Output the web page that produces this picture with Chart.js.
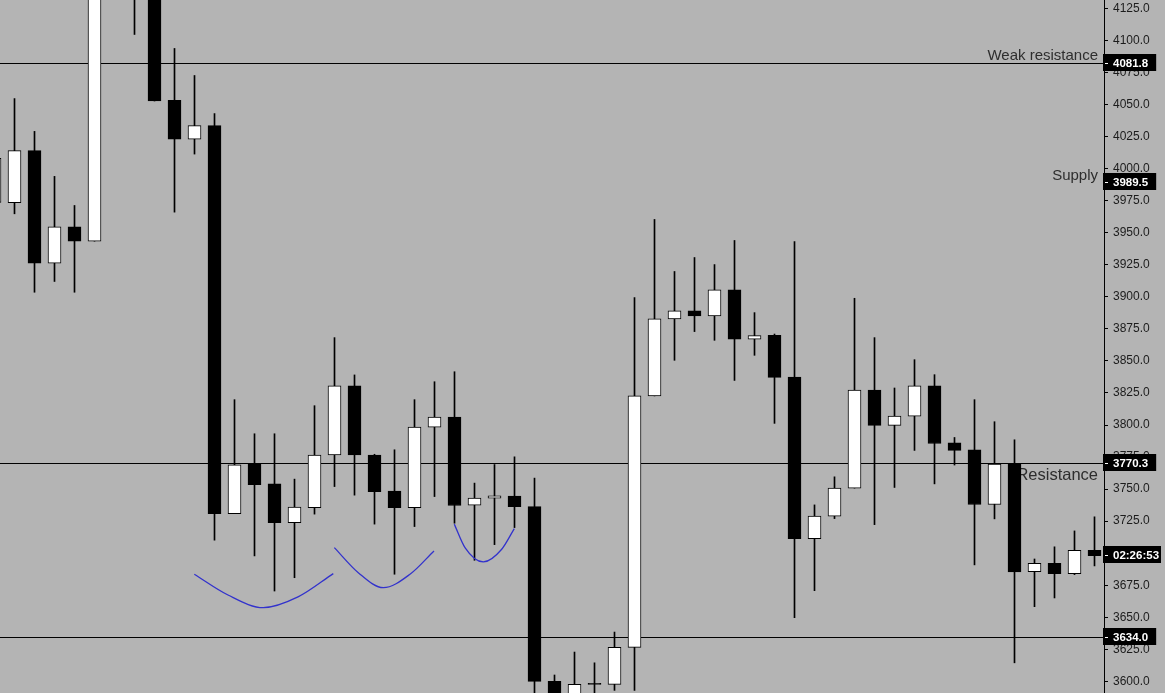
<!DOCTYPE html>
<html><head><meta charset="utf-8">
<script src="https://cdn.jsdelivr.net/npm/chart.js@4/dist/chart.umd.min.js"></script>
<style>html,body{margin:0;padding:0;background:#b4b4b4;overflow:hidden}canvas{display:block}</style>
</head><body>
<canvas id="c" width="1165" height="693"></canvas>
<script>
// ---- data ----
const candleX = [-1,0,1,2,3,4,5,6,7,8,9,10,11,12,13,14,15,16,17,18,19,20,21,22,23,24,25,26,27,28,29,30,31,32,33,34,35,36,37,38,39,40,41,42,43,44,45,46,47,48,49,50,51,52,53,54];
const opens  = [3973.7,3973.4,4014.1,3926.3,3954.7,3943.4,4150,4175,4145,4053.4,4023.1,4033.6,3730.9,3769.5,3754.1,3723.9,3735.6,3776.6,3830.5,3776.6,3748.4,3735.6,3798.4,3806.3,3737.5,3743.0,3744.5,3736.4,3600.0,3585.0,3597.7,3597.7,3626.6,3822.7,3882.8,3889.1,3885.2,3905.5,3866.9,3870.0,3837.5,3711.4,3728.9,3750.8,3827.3,3799.7,3807.0,3830.5,3786.2,3780.7,3738.0,3769.5,3685.6,3692.2,3684.1,3702.3];
const highs  = [4025,4054.7,4029.1,3994.0,3971.3,4165,4190,4185,4150,4093.8,4072.7,4043.0,3819.8,3793.2,3793.2,3757.8,3815.1,3868.2,3839.1,3777.2,3780.7,3819.8,3833.8,3841.6,3754.7,3769.2,3775.2,3758.6,3605.0,3622.9,3614.5,3638.5,3899.5,3960.4,3919.8,3930.7,3925.2,3944.0,3887.7,3871.0,3943.2,3737.7,3759.6,3898.9,3868.2,3828.9,3851.0,3839.3,3790.3,3819.8,3802.6,3788.5,3695.5,3705.0,3717.4,3728.4];
const lows   = [3960,3964.8,3903.6,3912.0,3903.6,3943.4,4140,4104.7,4052.8,3966.1,4011.4,3710.2,3730.9,3697.9,3670.5,3680.9,3730.5,3752.0,3745.3,3722.7,3683.6,3720.8,3744.2,3723.4,3694.5,3706.7,3720.0,3580.0,3575.0,3575.0,3580.0,3593.0,3593.0,3822.7,3850.5,3872.9,3866.1,3834.8,3854.4,3801.3,3649.7,3670.8,3727.0,3750.8,3722.3,3751.3,3780.2,3754.1,3768.8,3690.9,3726.8,3614.5,3658.3,3665.1,3683.3,3690.1];
const closes = [4008,4014.1,3926.3,3954.7,3943.4,4150,4175,4145,4052.8,4023.1,4033.6,3730.9,3769.0,3753.4,3723.9,3735.9,3776.6,3830.5,3776.6,3748.1,3735.6,3798.4,3806.3,3737.2,3743.0,3744.8,3736.4,3600.0,3585.0,3597.7,3597.7,3626.6,3822.7,3882.8,3889.1,3885.2,3905.5,3866.9,3869.8,3837.2,3711.4,3728.9,3750.8,3827.3,3799.7,3807.0,3830.5,3785.6,3780.2,3738.0,3769.5,3685.4,3692.2,3684.1,3702.3,3698.1];

const tickValues = [3600,3625,3650,3675,3700,3725,3750,3775,3800,3825,3850,3875,3900,3925,3950,3975,4000,4025,4050,4075,4100,4125];

const levelValues = [4081.8, 3989.5, 3770.3, 3634.0];
const levelNames  = ['Weak resistance', 'Supply', 'Resistance', ''];
const levelHasLine = [true, false, true, true];
const timerText = '02:26:53';

const arc1X = [8.99, 10.675, 12.44, 14.175, 15.94];
const arc1Y = [3683.6, 3667.4, 3657.5, 3665.9, 3684.1];
const arc2X = [15.99, 17.19, 18.44, 19.775, 20.975];
const arc2Y = [3704.4, 3684.8, 3673.1, 3683.6, 3701.8];
const arc3X = [21.99, 22.525, 23.44, 24.36, 24.99];
const arc3Y = [3722.7, 3704.4, 3693.2, 3703.1, 3719.2];

// ---- styles ----
const Y_MIN = 3590.95, Y_MAX = 4131.6;
const X_MIN = -0.725, X_MAX = 54.475;
const AXIS_W = 61;
const levelLabelStyle = [
  {size: 15, dy: -3.5},
  {size: 15, dy: -2},
  {size: 16.5, dy: 16.5},
  {size: 15, dy: 0}
];

const levelsPlugin = {
  id: 'levels',
  beforeDatasetsDraw(chart) {
    const {ctx, chartArea, scales: {y}} = chart;
    ctx.save();
    levelValues.forEach((v, k) => {
      const py = y.getPixelForValue(v);
      if (levelHasLine[k]) {
        const ly = Math.floor(py) + 0.5;
        ctx.strokeStyle = '#000';
        ctx.lineWidth = 1;
        ctx.beginPath();
        ctx.moveTo(chartArea.left, ly);
        ctx.lineTo(chartArea.right, ly);
        ctx.stroke();
      }
      if (levelNames[k]) {
        const st = levelLabelStyle[k];
        ctx.font = st.size + 'px "Liberation Sans", Arial, sans-serif';
        ctx.fillStyle = '#2e2e2e';
        ctx.textAlign = 'right';
        ctx.textBaseline = 'alphabetic';
        ctx.fillText(levelNames[k], chartArea.right - 6, Math.floor(py) + st.dy);
      }
    });
    ctx.restore();
  },
  afterDraw(chart) {
    const {ctx, chartArea, scales: {y}} = chart;
    ctx.save();
    const drawBox = (value, text) => {
      const py = y.getPixelForValue(value);
      ctx.font = 'bold 11.5px "Liberation Sans", Arial, sans-serif';
      const w = ctx.measureText(text).width;
      const left = chartArea.right - 1;
      const right = Math.min(chartArea.right + 9 + w + 8, chart.width - 4);
      const cy = Math.floor(py) - 0.5;
      ctx.fillStyle = '#000';
      ctx.fillRect(left, Math.round(cy - 8.5), right - left, 17);
      ctx.strokeStyle = '#fff';
      ctx.lineWidth = 1;
      ctx.beginPath();
      ctx.moveTo(chartArea.right + 1, Math.floor(py) + 0.5);
      ctx.lineTo(chartArea.right + 4, Math.floor(py) + 0.5);
      ctx.stroke();
      ctx.fillStyle = '#fff';
      ctx.textAlign = 'left';
      ctx.textBaseline = 'middle';
      ctx.fillText(text, chartArea.right + 9, cy + 1);
    };
    levelValues.forEach(v => drawBox(v, v.toFixed(1)));
    drawBox(closes[closes.length - 1], timerText);
    ctx.restore();
  }
};

const toPts = (xs, ys) => xs.map((x, k) => ({x, y: ys[k]}));
const arcStyle = {type: 'line', borderColor: '#3232cc', borderWidth: 1.3, pointRadius: 0, cubicInterpolationMode: 'monotone', fill: false, order: 0, clip: 0};

new Chart(document.getElementById('c'), {
  type: 'bar',
  data: {
    datasets: [
      {
        label: 'wicks',
        data: candleX.map((x, k) => ({x, y: [lows[k], highs[k]]})),
        backgroundColor: '#000',
        borderWidth: 0,
        barThickness: 1,
        grouped: false,
        order: 2,
        clip: 0
      },
      {
        label: 'bodies',
        data: candleX.map((x, k) => ({x, y: [opens[k], closes[k]]})),
        backgroundColor: closes.map((c, k) => c > opens[k] ? '#ffffff' : '#000000'),
        borderColor: '#000',
        borderWidth: 1,
        borderSkipped: false,
        barThickness: 13,
        minBarLength: 1,
        grouped: false,
        order: 1,
        clip: 0
      },
      Object.assign({label: 'arc1', data: toPts(arc1X, arc1Y)}, arcStyle),
      Object.assign({label: 'arc2', data: toPts(arc2X, arc2Y)}, arcStyle),
      Object.assign({label: 'arc3', data: toPts(arc3X, arc3Y)}, arcStyle)
    ]
  },
  options: {
    responsive: false,
    animation: false,
    devicePixelRatio: 1,
    layout: {padding: 0},
    plugins: {legend: {display: false}, tooltip: {enabled: false}, title: {display: false}},
    scales: {
      x: {type: 'linear', display: false, min: X_MIN, max: X_MAX, offset: false, grid: {display: false}},
      y: {
        position: 'right',
        min: Y_MIN, max: Y_MAX,
        afterBuildTicks(s) { s.ticks = tickValues.map(v => ({value: v})); },
        afterFit(s) { s.width = AXIS_W; s.paddingTop = 0; s.paddingBottom = 0; },
        ticks: {
          callback: v => Number(v).toFixed(1),
          font: {family: '"Liberation Sans", Arial, sans-serif', size: 12},
          color: '#1c1c1c',
          padding: 5,
          autoSkip: false
        },
        grid: {drawOnChartArea: false, drawTicks: true, tickLength: 4, color: '#000', lineWidth: 1},
        border: {display: true, color: '#000', width: 1}
      }
    }
  },
  plugins: [levelsPlugin]
});
</script>
</body></html>
